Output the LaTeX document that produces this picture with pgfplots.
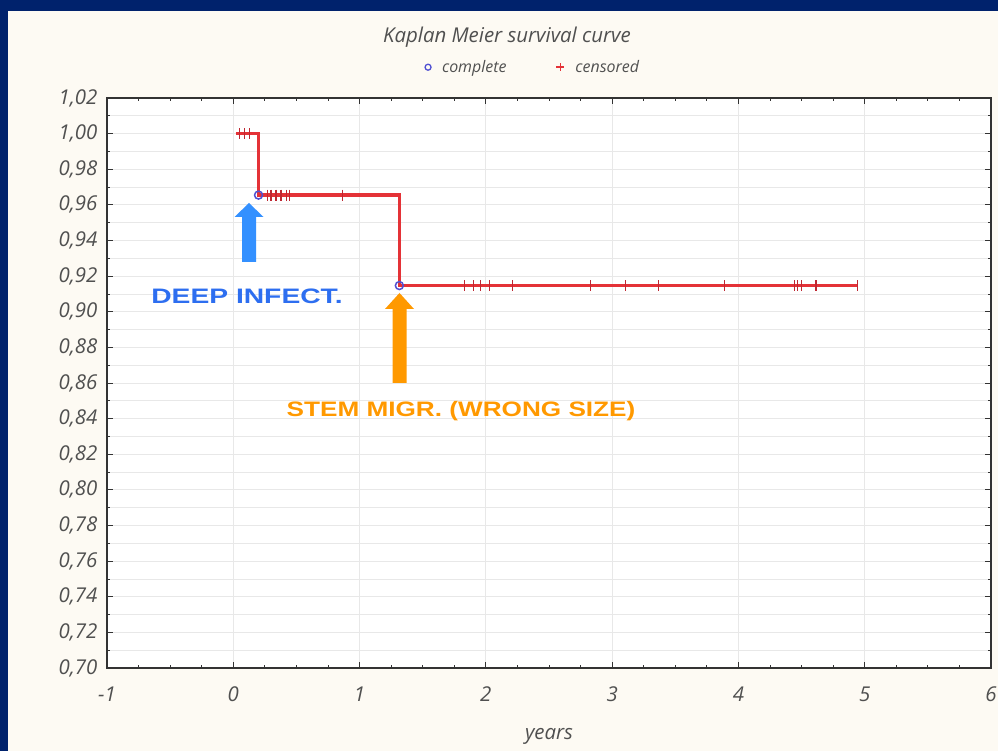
\documentclass[border=0pt]{standalone}
\usepackage{fontspec}
\setmainfont{Open Sans}
\newfontfamily\copper[FakeStretch=1.25]{Liberation Sans}
\newfontfamily\copperwide[FakeStretch=1.35]{Liberation Sans}
\usepackage{pgfplots}
\pgfplotsset{compat=1.18}

\definecolor{navy}{RGB}{0,34,108}
\definecolor{cream}{RGB}{253,250,243}
\definecolor{kmred}{RGB}{228,50,55}
\definecolor{censred}{RGB}{190,40,50}
\definecolor{cblue}{RGB}{80,80,210}
\definecolor{arrowblue}{RGB}{51,144,255}
\definecolor{txtblue}{RGB}{45,110,240}
\definecolor{kmorange}{RGB}{255,153,0}
\definecolor{labelgrey}{RGB}{80,80,80}
\definecolor{gridgrey}{RGB}{232,232,232}

\begin{document}
\begin{tikzpicture}[x=1bp,y=1bp]
\useasboundingbox (0,0) rectangle (998,751);
\fill[navy] (0,0) rectangle (998,751);
\fill[cream] (8,0) rectangle (998,740);

\node[font=\fontsize{20.5}{24}\selectfont\itshape, text=labelgrey] at (507,714) {Kaplan Meier survival curve};
\node[font=\fontsize{20.5}{24}\selectfont\itshape, text=labelgrey] at (549,15) {years};

\begin{axis}[
    at={(107bp,83bp)}, anchor=south west,
    scale only axis, width=884bp, height=570bp,
    xmin=-1, xmax=6, ymin=0.70, ymax=1.02,
    xtick={-1,0,1,2,3,4,5,6},
    ytick={0.70,0.72,0.74,0.76,0.78,0.80,0.82,0.84,0.86,0.88,0.90,0.92,0.94,0.96,0.98,1.00,1.02},
    minor x tick num=3, minor y tick num=1,
    major tick length=6bp, minor tick length=3bp,
    tick style={black!80, line width=0.8bp},
    axis line style={black!80, line width=1.2bp},
    axis background/.style={fill=white},
    xmajorgrids, ymajorgrids, yminorgrids,
    major grid style={gridgrey, line width=0.8bp},
    minor grid style={gridgrey, line width=0.8bp},
    /pgf/number format/assume math mode=true,
    ticklabel style={font=\fontsize{20.5}{24}\selectfont\itshape, text=labelgrey},
    xticklabel style={yshift=-15bp},
    yticklabel style={xshift=-6bp, /pgf/number format/.cd, fixed, fixed zerofill, precision=2, use comma},
    legend columns=2,
    legend style={draw=none, fill=none, at={(axis description cs:0.482,1.054)}, anchor=center,
        font=\fontsize{16}{19}\selectfont\itshape, text=labelgrey,
        /tikz/every odd column/.append style={column sep=9bp},
        /tikz/every even column/.append style={column sep=48bp}},
]
\addlegendimage{only marks, mark=o, mark size=3bp, color=cblue, mark options={line width=1.3bp}}
\addlegendentry{complete}
\addlegendimage{only marks, mark=+, mark size=4bp, color=kmred, mark options={line width=1.8bp}}
\addlegendentry{censored}

\addplot[kmred, line width=3.2bp, forget plot] coordinates {
    (0.02,1.0) (0.2,1.0) (0.2,0.9655) (1.315,0.9655) (1.315,0.9147) (4.94,0.9147)
};
\addplot[only marks, mark=|, mark size=5.5bp, censred, mark options={line width=1.1bp}, forget plot] coordinates {
    (0.05,1.0) (0.09,1.0) (0.13,1.0)
    (0.272,0.9655) (0.299,0.9655) (0.338,0.9655) (0.378,0.9655) (0.418,0.9655) (0.444,0.9655) (0.868,0.9655)
    (1.829,0.9147) (1.904,0.9147) (1.961,0.9147) (2.027,0.9147) (2.212,0.9147) (2.832,0.9147)
    (3.109,0.9147) (3.365,0.9147) (3.888,0.9147) (4.442,0.9147) (4.469,0.9147) (4.501,0.9147)
    (4.614,0.9147) (4.94,0.9147)
};
\addplot[only marks, mark=o, mark size=4bp, cblue, mark options={line width=1.5bp, fill=white}, forget plot] coordinates {
    (0.2,0.9655) (1.315,0.9147)
};
\end{axis}

% arrows and notes
\fill[arrowblue] (242,489) -- (256,489) -- (256,534) -- (263.5,534) -- (249,548) -- (234.5,534) -- (242,534) -- cycle;
\fill[kmorange] (392.5,368) -- (406.5,368) -- (406.5,442) -- (414,442) -- (399.5,458) -- (385,442) -- (392.5,442) -- cycle;
\node[font=\copperwide\bfseries\fontsize{21}{24}\selectfont, text=txtblue] at (247,455) {DEEP INFECT.};
\node[font=\copper\bfseries\fontsize{21}{24}\selectfont, text=kmorange] at (461,340) {STEM MIGR. (WRONG SIZE)};
\end{tikzpicture}
\end{document}
